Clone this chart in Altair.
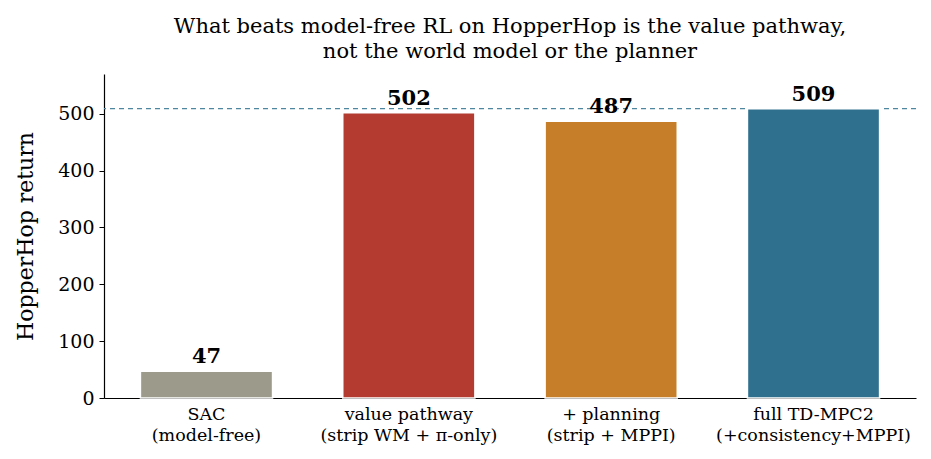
import altair as alt
import pandas as pd

categories = ["SAC\n(model-free)", "value pathway\n(strip WM + π-only)", "+ planning\n(strip + MPPI)", "full TD-MPC2\n(+consistency+MPPI)"]
values = [47, 502, 487, 509]
colors = ["#9b9a8b", "#b33b2f", "#c67e29", "#30708f"]
ref_value = [509]

df = pd.DataFrame({"cat": categories, "val": values, "color": colors})
ref = pd.DataFrame({"ref": ref_value})

FONT = "DejaVu Serif"

x = alt.X("cat:N", sort=categories, title=None,
          scale=alt.Scale(paddingInner=0.347, paddingOuter=0.18),
          axis=alt.Axis(labelExpr="split(datum.label, '\\n')", labelAngle=0,
                        labelFont=FONT, labelFontSize=17.5, labelColor="black",
                        labelLineHeight=21, labelPadding=7, ticks=False,
                        labelLimit=0, labelOverlap=False,
                        domainColor="black", domainWidth=1.2))
y = alt.Y("val:Q", title="HopperHop return",
          scale=alt.Scale(domain=[0, 570], nice=False),
          axis=alt.Axis(values=[0, 100, 200, 300, 400, 500], grid=False,
                        labelFont=FONT, labelFontSize=19, labelColor="black",
                        titleFont=FONT, titleFontSize=22, titleFontWeight="normal",
                        titleColor="black", titlePadding=20,
                        tickSize=5, tickColor="black", domainColor="black",
                        domainWidth=1.2, labelPadding=5))

rule = alt.Chart(ref).mark_rule(strokeDash=[5, 4], color="#4e86a0", strokeWidth=1.3).encode(
    y=alt.Y("ref:Q", scale=alt.Scale(domain=[0, 570], nice=False))
)

bars = alt.Chart(df).mark_bar(stroke="white", strokeWidth=1.5).encode(
    x=x, y=y, color=alt.Color("color:N", scale=None)
)

text = alt.Chart(df).mark_text(font=FONT, fontSize=21, fontWeight="bold",
                               baseline="bottom", dy=-4, color="black").encode(
    x=alt.X("cat:N", sort=categories),
    y=alt.Y("val:Q"),
    text=alt.Text("val:Q")
)

chart = alt.layer(rule, bars, text).properties(
    width=812, height=324,
    background="white",
    title=alt.TitleParams(
        ["What beats model-free RL on HopperHop is the value pathway,",
         "not the world model or the planner"],
        font=FONT, fontSize=21, fontWeight="normal", color="black",
        anchor="middle", lineHeight=25, offset=12),
    autosize=alt.AutoSizeParams(type="none"),
    padding={"left": 104, "top": 74, "right": 15, "bottom": 61},
).configure_view(strokeWidth=0, stroke=None)

chart.save("out.html", embed_options={"renderer": "svg", "actions": False})
